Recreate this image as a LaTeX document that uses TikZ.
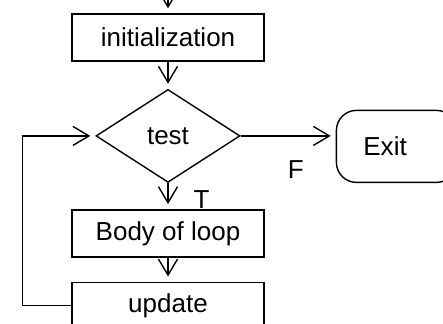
\documentclass[tikz,border=0pt]{standalone}
\usepackage{fontspec}
\setmainfont{Liberation Sans}
\usetikzlibrary{positioning,shapes.geometric,arrows.meta}

\begin{document}
\begin{tikzpicture}[
        font=\fontsize{13}{15}\selectfont,
        line width=0.7pt,
        box/.style={draw, rectangle, minimum width=96pt, minimum height=23.5pt, inner sep=0pt},
        decision/.style={draw, diamond, minimum width=72pt, minimum height=46.5pt, inner sep=0pt},
        terminal/.style={draw, rounded corners=10pt, minimum height=36pt, text width=33pt, inner xsep=13.5pt, align=left},
        flow/.style={-{Straight Barb[length=8pt,width=9.5pt]}, shorten >=2.5pt},
    ]
    \useasboundingbox (0,0) rectangle (221.5pt,-161.5pt);

    \node[box] (init) at (84pt,-18.75pt) {initialization};
    \node[decision, below=13.5pt of init] (test) {test};
    \node[box, below=13pt of test] (body) {Body of loop};
    \node[box, below=12pt of body] (update) {update};
    \node[terminal, right=47.5pt of test, yshift=-5.25pt] (exit) {Exit};
    \coordinate[above=12pt of init] (entry);

    \draw[flow] (entry) -- (init);
    \draw[flow] (init) -- (test);
    \draw[flow] (test) -- node[pos=0.65, right=12.5pt, inner sep=0pt] {T} (body);
    \draw[flow] (body) -- (update);
    \draw[flow] (test.east) -- node[pos=0.58, below=12.25pt, inner sep=0pt] {F} (test.east -| exit.west);
    \draw[flow] (update.west) -- ++(-24.5pt,0) |- (test.west);
\end{tikzpicture}
\end{document}
